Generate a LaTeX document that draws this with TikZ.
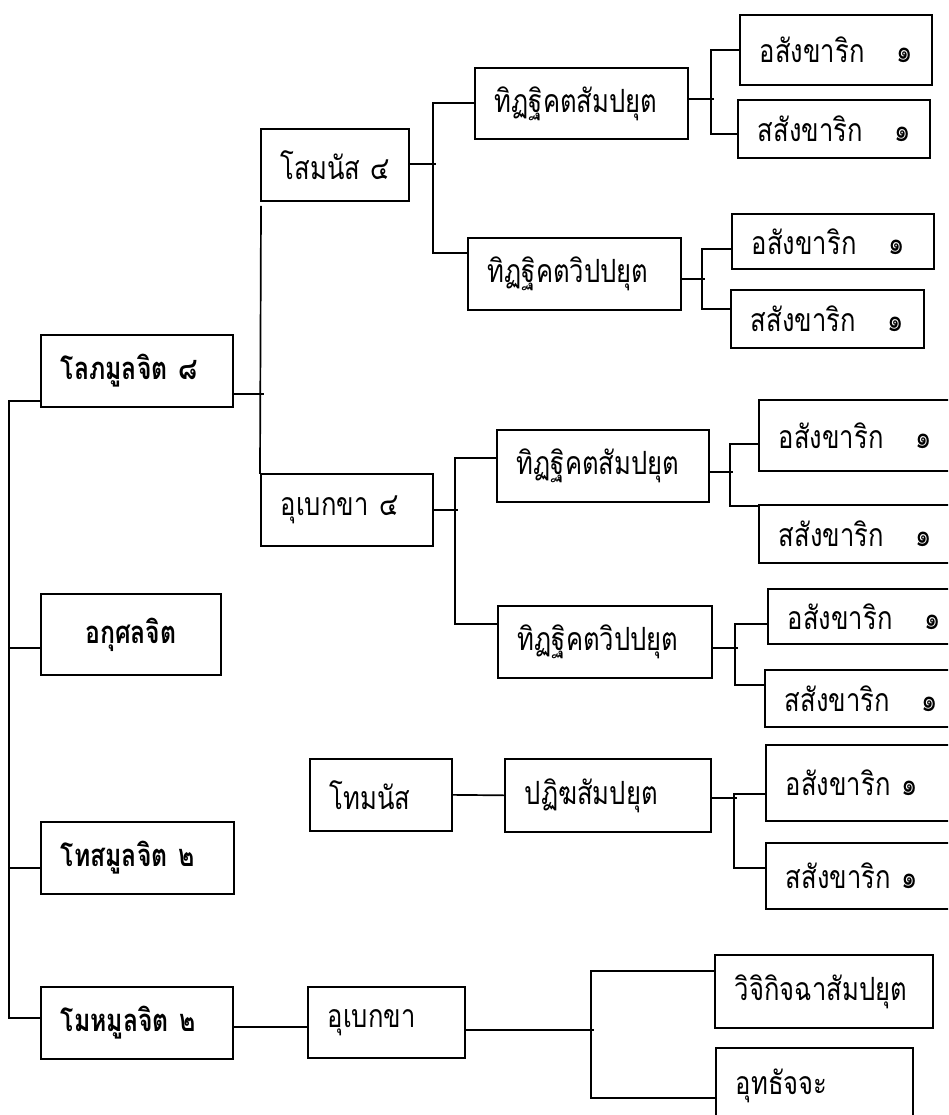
\documentclass[tikz,border=0pt]{standalone}
\usepackage{fontspec}
\newfontfamily\thai[Script=Thai, FakeStretch=0.8]{Loma}
\begin{document}
\begin{tikzpicture}[x=1pt,y=-1pt,
  bx/.style={draw=black, line width=1.7pt, anchor=north west, inner xsep=20pt, inner ysep=0pt,
     align=left, font=\thai\fontsize{32}{36}\selectfont},
  bbx/.style={bx, font=\thai\bfseries\fontsize{31}{36}\selectfont},
  ln/.style={line width=1.7pt, line cap=rect}]
\fill[white] (0,0) rectangle (948,1115);
\useasboundingbox (0,0) rectangle (948,1115);
\clip (0,0) rectangle (948,1115);
% level 1
\node[bbx, minimum width=192pt, minimum height=72pt, text width=152pt] (lobha) at (40,334) {\mbox{โลภมูลจิต ๘}};
\node[bbx, minimum width=180pt, minimum height=81pt, text width=140pt, align=center] (akusala) at (40,593) {\mbox{อกุศลจิต}};
\node[bbx, minimum width=193pt, minimum height=72pt, text width=153pt] (dosa) at (40,821) {\mbox{โทสมูลจิต ๒}};
\node[bbx, minimum width=192pt, minimum height=72pt, text width=152pt] (moha) at (40,986) {\mbox{โมหมูลจิต ๒}};
% level 2
\node[bx, minimum width=148pt, minimum height=72pt, text width=108pt] (soma) at (260,128) {\mbox{โสมนัส ๔}};
\node[bx, minimum width=172pt, minimum height=72pt, text width=132pt] (upe4) at (260,473) {\mbox{อุเบกขา ๔}};
\node[bx, minimum width=142pt, minimum height=72pt, text width=102pt] (doma) at (309,758) {\mbox{โทมนัส}};
\node[bx, minimum width=157pt, minimum height=71pt, text width=117pt] (upe) at (307,986) {\mbox{อุเบกขา}};
% level 3
\node[bx, minimum width=213pt, minimum height=71pt, text width=173pt] (ds1) at (474,67) {\mbox{ทิฏฐิคตสัมปยุต}};
\node[bx, minimum width=213pt, minimum height=72pt, text width=173pt] (dv1) at (467,237) {\mbox{ทิฏฐิคตวิปปยุต}};
\node[bx, minimum width=212pt, minimum height=72pt, text width=172pt] (ds2) at (496,429) {\mbox{ทิฏฐิคตสัมปยุต}};
\node[bx, minimum width=214pt, minimum height=72pt, text width=174pt] (dv2) at (497,605) {\mbox{ทิฏฐิคตวิปปยุต}};
\node[bx, minimum width=206pt, minimum height=73pt, text width=166pt] (pati) at (504,758) {\mbox{ปฏิฆสัมปยุต}};
\node[bx, minimum width=218pt, minimum height=73pt, text width=178pt] (vici) at (714,954) {\mbox{วิจิกิจฉาสัมปยุต}};
\node[bx, minimum width=197pt, minimum height=76pt, text width=157pt] (uddh) at (715,1047) {\mbox{อุทธัจจะ}};
% level 4
\node[bx, minimum width=192pt, minimum height=70pt, text width=152pt] (a1) at (739,14) {\mbox{อสังขาริก\ \ \ ๑}};
\node[bx, minimum width=192pt, minimum height=58pt, text width=152pt] (s1) at (737,99) {\mbox{สสังขาริก\ \ \ ๑}};
\node[bx, minimum width=202pt, minimum height=55pt, text width=162pt] (a2) at (731,213) {\mbox{อสังขาริก\ \ \ ๑}};
\node[bx, minimum width=193pt, minimum height=58pt, text width=153pt] (s2) at (730,289) {\mbox{สสังขาริก\ \ \ ๑}};
\node[bx, minimum width=202pt, minimum height=71pt, text width=162pt] (a3) at (758,399) {\mbox{อสังขาริก\ \ \ ๑}};
\node[bx, minimum width=202pt, minimum height=58pt, text width=162pt] (s3) at (758,504) {\mbox{สสังขาริก\ \ \ ๑}};
\node[bx, minimum width=193pt, minimum height=55pt, text width=153pt] (a4) at (767,588) {\mbox{อสังขาริก\ \ \ ๑}};
\node[bx, minimum width=196pt, minimum height=57pt, text width=156pt] (s4) at (764,669) {\mbox{สสังขาริก\ \ \ ๑}};
\node[bx, minimum width=195pt, minimum height=76pt, text width=155pt] (a5) at (765,744) {\mbox{อสังขาริก ๑}};
\node[bx, minimum width=195pt, minimum height=66pt, text width=155pt] (s5) at (765,842) {\mbox{สสังขาริก ๑}};
% spine
\draw[ln] ([yshift=7pt]lobha.south west) -- ++(-31,0) |- ([yshift=5pt]moha.west);
\draw[ln] ([yshift=-13.5pt]akusala.west) -- ++(-31,0);
\draw[ln] ([yshift=-10pt]dosa.west) -- ++(-31,0);
% lobha -> soma / upe4
\draw[ln] ([yshift=-23pt]lobha.east) -- ++(29,0);
\draw[ln] ([xshift=1pt,yshift=-5pt]soma.south west) -- (upe4.north west);
% soma bracket
\draw[ln] ([yshift=1pt]soma.east) -- ++(25,0);
\draw[ln] (ds1.west) -- ++(-41,0) |- ([yshift=21pt]dv1.west);
% ds1 bracket
\draw[ln] ([yshift=4.5pt]ds1.east) -- ++(24,0);
\draw[ln] (a1.west) -- ++(-28,0) |- ([yshift=-5pt]s1.west);
% dv1 bracket
\draw[ln] ([yshift=-5pt]dv1.east) -- ++(22,0);
\draw[ln] ([yshift=-7.5pt]a2.west) -- ++(-29,0) |- ([yshift=10pt]s2.west);
% upe4 bracket
\draw[ln] (upe4.east) -- ++(23,0);
\draw[ln] ([yshift=8pt]ds2.west) -- ++(-41,0) |- ([yshift=18pt]dv2.west);
% ds2 bracket
\draw[ln] ([yshift=-6pt]ds2.east) -- ++(22,0);
\draw[ln] ([yshift=-8.5pt]a3.west) -- ++(-28,0) |- ([yshift=28pt]s3.west);
% dv2 bracket
\draw[ln] ([yshift=-6pt]dv2.east) -- ++(24,0);
\draw[ln] ([yshift=-7.5pt]a4.west) -- ++(-32,0) |- ([yshift=13.5pt]s4.west);
% domanassa -> patigha
\draw[ln] (doma.east) -- (pati.west);
% patigha bracket
\draw[ln] ([yshift=-2.5pt]pati.east) -- ++(24,0);
\draw[ln] ([yshift=-11pt]a5.west) -- ++(-31,0) |- ([yshift=8pt]s5.west);
% moha -> upekkha
\draw[ln] ([yshift=-4pt]moha.east) -- ([yshift=-4.5pt]upe.west);
% upekkha bracket
\draw[ln] ([yshift=-7.5pt]upe.east) -- ++(127,0);
\draw[ln] ([yshift=20.5pt]vici.west) -- ++(-123,0) |- ([yshift=-12pt]uddh.west);
\end{tikzpicture}
\end{document}
